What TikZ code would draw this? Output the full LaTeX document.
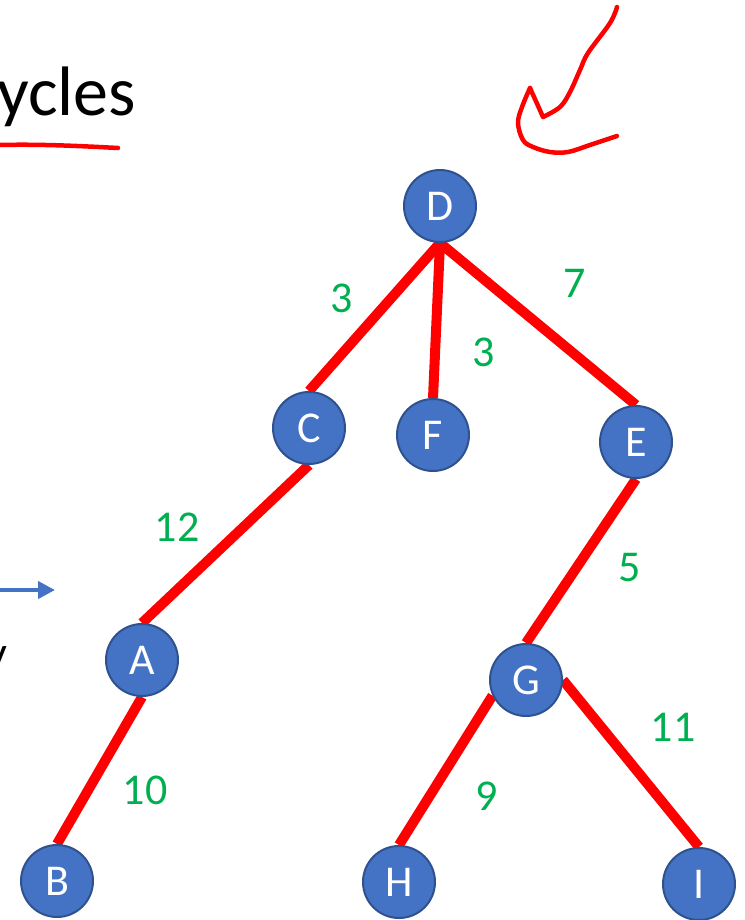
\documentclass[tikz,border=0pt]{standalone}
\usepackage{fontspec}
\setmainfont{Carlito}
\usetikzlibrary{backgrounds,arrows.meta}
\definecolor{nodeblue}{HTML}{4472C4}
\definecolor{nodeline}{HTML}{2F528F}
\definecolor{edgered}{HTML}{FF0000}
\definecolor{labelgreen}{HTML}{00B050}

\begin{document}
\begin{tikzpicture}[
x=1pt, y=-1pt,
vertex/.style={circle, draw=nodeline, line width=2pt, fill=nodeblue, text=white, minimum size=72pt, inner sep=0pt, font=\fontsize{44}{44}\selectfont},
weight/.style={text=labelgreen, inner sep=0pt, font=\fontsize{44}{44}\selectfont},
edge/.style={draw=edgered, line width=10pt},
ink/.style={draw=edgered, line width=4.5pt, line cap=round, line join=round},
pointer/.style={draw=nodeblue, line width=4pt, -{Triangle[length=17pt,width=17pt]}}
]
\useasboundingbox (0,0) rectangle (744,920);
\clip (0,0) rectangle (744,920);

% text cut off at the left
\node[anchor=base east, inner sep=0pt, font=\fontsize{70}{70}\selectfont] (title) at (136,116) {ycles};
\node[anchor=base east, inner sep=0pt, font=\fontsize{46}{46}\selectfont] (lefty) at (8,668) {y};

\node[vertex] (D) at (440,206) {D};
\node[vertex] (C) at (309,428) {C};
\node[vertex] (F) at (433,435) {F};
\node[vertex] (E) at (636,442) {E};
\node[vertex] (A) at (142,660) {A};
\node[vertex] (G) at (526,680) {G};
\node[vertex] (B) at (57,881) {B};
\node[vertex] (H) at (399,882) {H};
\node[vertex] (I) at (699,884) {I};

\begin{pgfonlayer}{background}
\draw[edge] (D.south) -- (C.north);
\draw[edge] (D.south) -- (F.north);
\draw[edge] (D.south) -- (E.north);
\draw[edge] (C.south) -- (A.north);
\draw[edge] (A.south) -- (B.north);
\draw[edge] (E.south) -- (G.north);
\draw[edge] (G.205) -- (H.north);
\draw[edge] (G.east) -- (I.north);
\end{pgfonlayer}

\node[weight] (wDC) at (342,298) {3};
\node[weight] (wDF) at (484,352) {3};
\node[weight] (wDE) at (575,283) {7};
\node[weight] (wCA) at (177,527) {12};
\node[weight] (wEG) at (630,568) {5};
\node[weight] (wAB) at (145,790) {10};
\node[weight] (wGI) at (673,727) {11};
\node[weight] (wGH) at (487,796) {9};

% blue arrow at the left edge
\coordinate (tail) at (-5,590);
\coordinate (tip) at (55,590);
\draw[pointer] (tail) -- (tip);

% red pen marks
\draw[ink] (0,145) .. controls (40,144) and (80,146) .. (118,148);
\draw[ink] plot[smooth, tension=0.6] coordinates {(617,7) (610,23) (588,53) (580,70) (570,92) (560,107) (543,117)} -- (530,88);
\draw[ink] plot[smooth, tension=0.6] coordinates {(530,88) (522,107) (518,123) (523,140) (533,147) (550,152) (568,152) (590,145) (617,136)};

\end{tikzpicture}
\end{document}
